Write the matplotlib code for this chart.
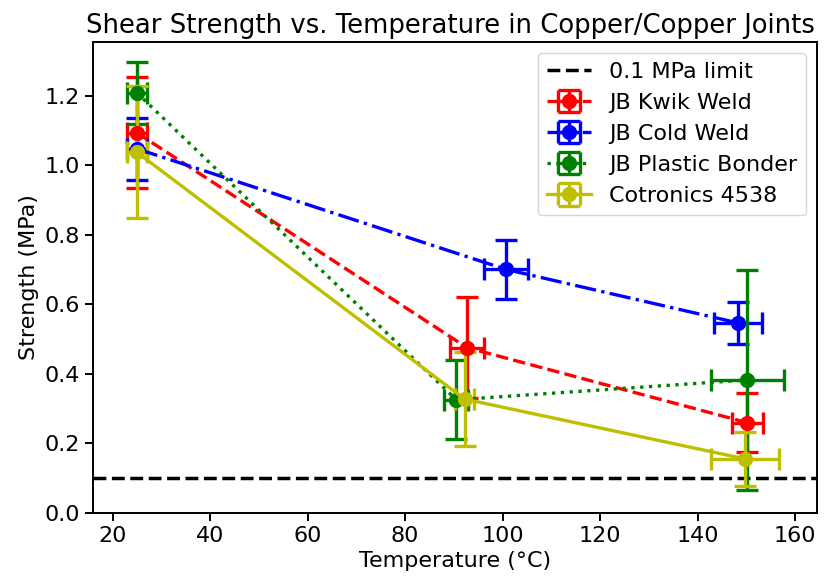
import matplotlib
matplotlib.use("Agg")
import matplotlib.pyplot as plt

# Values
labels = ["JB Kwik Weld", "JB Cold Weld", "JB Plastic Bonder", "Cotronics 4538"]

kwik_t = [25, 92.7, 150.2]
kwik_s = [1.093, 0.475, 0.259]
kwik_serr = [0.16, 0.145, 0.085]
kwik_terr = [2.0, 3.4, 3.2]

cold_t = [25, 100.7, 148.3]
cold_s = [1.047, 0.700, 0.546]
cold_serr = [0.09, 0.085, 0.06]
cold_terr = [2.0, 4.5, 5.0]

plastic_t = [25, 90.5, 150.2]
plastic_s = [1.208, 0.325, 0.382]
plastic_serr = [0.09, 0.114, 0.316]
plastic_terr = [2.0, 2.5, 7.5]

cotronics_t = [25, 92.2, 149.7]
cotronics_s = [1.037, 0.327, 0.155]
cotronics_serr = [0.19, 0.135, 0.078]
cotronics_terr = [2.0, 2.0, 7.0]

limit = 0.1

fig = plt.figure(figsize=(8.27, 5.8), dpi=100)
ax = fig.add_axes([0.1125, 0.116, 0.8755, 0.812])

ax.axhline(limit, color="k", linestyle="--", linewidth=2.5, label="0.1 MPa limit")

series = [
    (kwik_t, kwik_s, kwik_terr, kwik_serr, "r", "--"),
    (cold_t, cold_s, cold_terr, cold_serr, "b", "-."),
    (plastic_t, plastic_s, plastic_terr, plastic_serr, "g", ":"),
    (cotronics_t, cotronics_s, cotronics_terr, cotronics_serr, "y", "-"),
]
yellow = (0.75, 0.75, 0.0)
for (t, s, terr, serr, c, ls), lab in zip(series, labels):
    col = yellow if c == "y" else c
    ax.errorbar(t, s, xerr=terr, yerr=serr, color=col, linestyle=ls,
                linewidth=2.4, marker="o", markersize=10, capsize=8,
                elinewidth=2.4, capthick=2.4, label=lab)

ax.set_xlim(16, 164.5)
ax.set_ylim(0, 1.355)
ax.set_xticks([20, 40, 60, 80, 100, 120, 140, 160])
ax.set_yticks([0.0, 0.2, 0.4, 0.6, 0.8, 1.0, 1.2])
ax.tick_params(labelsize=16, width=1.4, length=6)
for sp in ax.spines.values():
    sp.set_linewidth(1.4)

ax.set_xlabel("Temperature (°C)", fontsize=16)
ax.set_ylabel("Strength (MPa)", fontsize=16)
ax.set_title("Shear Strength vs. Temperature in Copper/Copper Joints",
             fontsize=18.6, x=0.494)
ax.legend(loc="upper right", fontsize=16)

fig.savefig("out.png", dpi=100)
